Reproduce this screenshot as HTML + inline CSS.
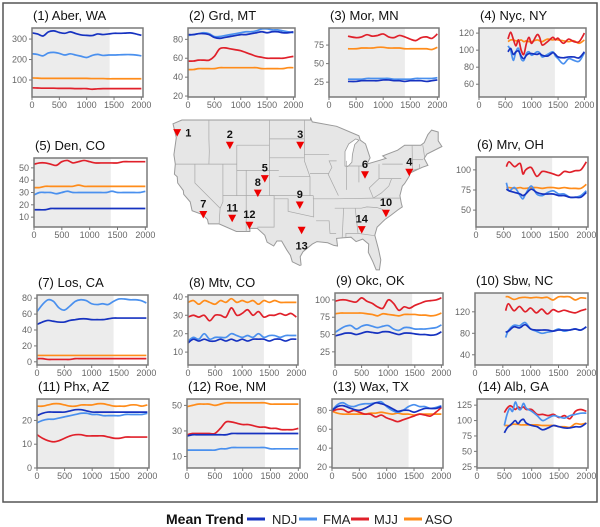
<!DOCTYPE html>
<html><head><meta charset="utf-8">
<style>
html,body{margin:0;padding:0;background:#fff;}
svg{display:block;font-family:"Liberation Sans",Arial,sans-serif;}
</style></head>
<body>
<svg id="fig" width="600" height="527" viewBox="0 0 600 527" xmlns="http://www.w3.org/2000/svg">
<rect x="3" y="3" width="594" height="499" fill="none" stroke="#555" stroke-width="1.5"/>
<g id="map"></g>
<g id="panels"></g>
<g id="legend">
  <text x="166" y="524" font-size="14" font-weight="bold" fill="#111">Mean Trend</text>
  <line x1="247" y1="519" x2="265" y2="519" stroke="#1632c0" stroke-width="3"/>
  <text x="272" y="524" font-size="13" fill="#222">NDJ</text>
  <line x1="299" y1="519" x2="317" y2="519" stroke="#4a90ee" stroke-width="3"/>
  <text x="323" y="524" font-size="13" fill="#222">FMA</text>
  <line x1="351" y1="519" x2="369" y2="519" stroke="#e0202a" stroke-width="3"/>
  <text x="374" y="524" font-size="13" fill="#222">MJJ</text>
  <line x1="404" y1="519" x2="422" y2="519" stroke="#ff8c1a" stroke-width="3"/>
  <text x="425" y="524" font-size="13" fill="#222">ASO</text>
</g>
</svg>
<script>
// ---------- data ----------
const yearsFull = [0,100,200,300,400,500,600,700,800,900,1000,1100,1200,1300,1400,1500,1600,1700,1800,1900,2000];

const p1NDJ = [330,325,315,335,340,332,328,335,327,320,318,317,325,322,325,328,328,329,330,325,318];
const p1FMA = [228,225,218,232,235,230,222,228,222,216,210,220,225,220,222,222,223,224,224,222,218];
const p1MJJ = [62,61,60,60,60,59,59,59,58,58,58,55,57,58,58,58,58,58,58,58,58];
const p1ASO = [110,109,108,108,108,108,108,108,108,108,108,107,107,107,106,106,106,106,106,106,106];

const p2NDJ = [85,85,86,86,85,82,81,82,83,84,85,85,86,87,88,87,88,88,87,87,88];
const p2FMA = [84,85,86,87,86,83,83,84,85,86,87,88,88,89,91,91,90,90,89,88,87];
const p2MJJ = [57,57,58,58,58,62,70,71,70,69,68,66,64,62,61,60,60,60,60,61,62];
const p2ASO = [48,48,49,49,49,49,50,50,50,50,50,50,50,50,49,49,49,49,49,50,50];

const p3Years = [350,500,600,700,800,900,1000,1100,1200,1300,1400,1500,1600,1700,1800,1900,2000];
const p3MJJ = [87,85,86,89,87,88,90,86,85,88,86,83,81,85,86,84,90];
const p3ASO = [70,70,71,71,71,72,72,71,71,71,70,70,70,70,70,69,72];
const p3FMA = [29,29,29,30,30,30,30,30,29,29,29,29,30,30,30,30,31];
const p3NDJ = [26,26,27,27,27,27,28,28,27,27,26,27,27,27,26,27,28];

const p4Years = [550,600,650,700,750,800,850,900,950,1000,1100,1150,1200,1300,1400,1450,1500,1600,1700,1800,1900,2000];
const p4MJJ = [113,121,113,105,112,100,95,108,115,108,118,115,106,110,115,112,114,108,113,110,110,120];
const p4ASO = [110,112,112,111,111,112,110,111,110,110,112,111,110,113,112,113,112,111,110,111,108,112];
const p4FMA = [105,100,88,98,102,90,88,96,98,94,98,97,92,95,98,93,90,84,90,88,87,97];
const p4NDJ = [98,102,95,98,99,93,90,94,96,96,95,96,94,93,97,95,92,91,92,92,91,98];

const p5MJJ = [53,54,54,53,52,55,56,54,55,56,55,54,54,54,54,54,55,55,55,55,55];
const p5ASO = [34,34,35,35,35,35,35,35,36,35,35,35,35,35,35,35,35,35,35,35,35];
const p5FMA = [28,30,30,30,29,30,31,30,30,30,30,30,30,30,31,30,30,30,30,30,31];
const p5NDJ = [16,16,16,17,17,17,17,17,17,17,17,17,17,17,17,17,17,17,17,17,17];

const p6Years = [550,600,700,800,850,900,1000,1100,1200,1300,1400,1500,1600,1700,1800,1900,2000];
const p6MJJ = [104,110,104,108,95,100,103,92,98,97,95,93,98,97,99,100,110];
const p6ASO = [78,78,77,78,77,77,78,78,77,78,78,77,78,77,77,77,82];
const p6FMA = [84,74,78,68,64,70,80,70,68,72,74,70,70,66,66,68,74];
const p6NDJ = [76,74,72,70,68,70,76,72,70,70,70,68,68,66,66,66,72];

const p7FMA = [63,72,78,76,68,65,70,76,78,77,73,72,73,72,76,79,79,78,78,77,74];
const p7NDJ = [47,50,52,51,50,50,52,53,54,54,53,53,53,54,55,55,55,55,55,55,55];
const p7ASO = [8,8,8,8,8,8,8,8,8,8,8,8,8,8,8,8,8,8,8,8,8];
const p7MJJ = [4,4,3,3,3,3,3,4,4,4,4,4,4,4,4,4,4,4,4,4,4];

const p8ASO = [37,38,36,38,37,36,38,37,39,37,38,37,38,36,38,37,38,37,37,37,37];
const p8MJJ = [29,30,29,30,27,30,30,29,34,30,31,33,30,32,29,30,30,31,30,31,29];
const p8FMA = [16,18,17,20,17,18,18,18,20,19,18,19,18,20,18,19,19,18,19,19,19];
const p8NDJ = [15,17,16,17,16,16,17,16,17,16,17,16,17,17,17,16,17,17,16,17,17];

const p9MJJ = [98,100,100,98,97,103,98,95,90,88,100,95,85,90,88,92,95,98,99,100,103];
const p9ASO = [80,81,81,81,81,81,80,79,77,80,79,78,77,79,79,79,78,78,77,78,81];
const p9FMA = [53,58,62,63,58,62,64,62,60,62,63,58,56,60,60,58,58,58,59,60,64];
const p9NDJ = [48,50,52,52,50,52,54,53,52,54,54,52,50,52,52,51,50,50,49,50,54];

const p10Years = [550,600,700,800,900,1000,1100,1200,1300,1400,1500,1600,1700,1800,1900,2000];
const p10ASO = [148,148,143,146,147,146,147,146,147,142,148,148,148,142,146,145];
const p10MJJ = [122,135,122,130,120,127,118,125,116,124,120,123,120,118,122,125];
const p10FMA = [72,85,95,94,100,88,84,80,82,84,88,84,86,88,86,92];
const p10NDJ = [82,84,92,90,96,88,86,86,86,84,86,86,86,88,86,92];

const p11ASO = [26,26,26.5,27,27,26.5,26,26,26.5,26.5,26.5,27,27,26.5,26,26,26,26.5,26.5,26,26.5];
const p11NDJ = [22,23,23.5,23.5,23.5,23.5,24,24.5,24.5,24,23.5,23.5,23.5,23.5,23.5,23.5,23.5,23.5,23.5,23.5,23.5];
const p11FMA = [19,20,20.5,20.5,21,21.5,22,22.5,23,23,22.5,22.5,22,22,22,22,22.5,22.5,22.5,22.5,23];
const p11MJJ = [14,12.5,11.5,11,11.5,12.5,13.5,14,14,13.5,13.5,13.5,13.5,13,12.5,12.5,13,13,13,13,13];

const p12ASO = [49,50,51,51,51,50,51,52,52,52,52,52,52,52,52,51,51,51,51,51,51];
const p12MJJ = [27,28,28,28,28,28,32,37,37,36,35,35,34,33,33,32,32,31,31,31,32];
const p12NDJ = [26,27,27,27,27,27,27,27,28,28,28,28,28,28,28,28,28,28,28,28,28];
const p12FMA = [15,15,15,15,15,15,16,16,17,17,17,17,17,17,17,16,16,16,16,16,16];

const p13FMA = [80,86,88,85,84,86,87,87,88,89,84,80,78,80,84,86,84,84,82,83,85];
const p13NDJ = [80,84,85,83,81,80,82,85,88,87,85,82,79,80,80,78,80,82,82,82,84];
const p13MJJ = [79,81,81,78,80,78,76,76,73,75,72,70,68,70,72,74,76,75,74,78,83];
const p13ASO = [79,77,76,76,76,76,76,77,77,78,77,76,77,76,76,75,76,76,76,76,76];

const p14Years = [500,550,600,650,700,750,800,850,900,1000,1100,1200,1300,1400,1500,1600,1700,1800,1900,2000];
const p14MJJ = [113,120,124,122,118,122,120,122,118,118,110,110,108,110,105,108,103,115,118,115];
const p14FMA = [92,110,120,115,130,120,118,128,120,115,108,100,104,108,106,104,108,110,112,112];
const p14NDJ = [80,88,92,96,100,95,100,102,96,92,90,85,88,92,90,88,88,90,90,96];
const p14ASO = [92,92,92,94,94,94,93,93,93,93,93,92,92,92,90,90,89,95,94,96];

const xTicks = [0,500,1000,1500,2000];
const siteNames = ["(1) Aber, WA","(2) Grd, MT","(3) Mor, MN","(4) Nyc, NY","(5) Den, CO","(6) Mrv, OH","(7) Los, CA","(8) Mtv, CO","(9) Okc, OK","(10) Sbw, NC","(11) Phx, AZ","(12) Roe, NM","(13) Wax, TX","(14) Alb, GA"];
const siteLon = [-123.8,-112.5,-97.4,-74.0,-105.0,-83.5,-118.2,-106.5,-97.5,-79.0,-112.0,-108.3,-97.1,-84.2];
const siteLat = [47.0,45.0,45.0,40.7,39.7,40.3,34.0,37.4,35.5,34.2,33.4,32.3,31.5,31.6];

const COLORS = {NDJ:"#1632c0", FMA:"#4a90ee", MJJ:"#e0202a", ASO:"#ff8c1a"};
const NS = "http://www.w3.org/2000/svg";

function mk(tag, attrs, parent){
  const e = document.createElementNS(NS, tag);
  for (const k in attrs) e.setAttribute(k, attrs[k]);
  if (parent) parent.appendChild(e);
  return e;
}

// panel layout: [x0, x1, y0, y1, yMin, yMax, yTicks, shadeEnd]
const panels = [
  {box:[32,143,28,97], dom:[17,354], ticks:[100,200,300], years:yearsFull, s:{NDJ:p1NDJ,FMA:p1FMA,MJJ:p1MJJ,ASO:p1ASO}, shade:1420},
  {box:[188,295,28,97], dom:[19,92], ticks:[20,40,60,80], years:yearsFull, s:{NDJ:p2NDJ,FMA:p2FMA,MJJ:p2MJJ,ASO:p2ASO}, shade:1450},
  {box:[329,439,28,97], dom:[5,98], ticks:[25,50,75], years:p3Years, s:{NDJ:p3NDJ,FMA:p3FMA,MJJ:p3MJJ,ASO:p3ASO}, shade:1400},
  {box:[479,586,28,97], dom:[45,126], ticks:[60,80,100,120], years:p4Years, s:{NDJ:p4NDJ,FMA:p4FMA,MJJ:p4MJJ,ASO:p4ASO}, shade:1440},
  {box:[34,147,158,227], dom:[2,58], ticks:[10,20,30,40,50], years:yearsFull, s:{NDJ:p5NDJ,FMA:p5FMA,MJJ:p5MJJ,ASO:p5ASO}, shade:1380},
  {box:[476,588,157,227], dom:[29,116], ticks:[50,75,100], years:p6Years, s:{NDJ:p6NDJ,FMA:p6FMA,MJJ:p6MJJ,ASO:p6ASO}, shade:1380},
  {box:[37,148,295,365], dom:[-4,84], ticks:[0,20,40,60,80], years:yearsFull, s:{NDJ:p7NDJ,FMA:p7FMA,MJJ:p7MJJ,ASO:p7ASO}, shade:1400},
  {box:[188,298,295,365], dom:[3,41], ticks:[10,20,30,40], years:yearsFull, s:{NDJ:p8NDJ,FMA:p8FMA,MJJ:p8MJJ,ASO:p8ASO}, shade:1400},
  {box:[335,443,293,365], dom:[6,110], ticks:[25,50,75,100], years:yearsFull, s:{NDJ:p9NDJ,FMA:p9FMA,MJJ:p9MJJ,ASO:p9ASO}, shade:1450},
  {box:[475,588,293,365], dom:[21,155], ticks:[40,80,120], years:p10Years, s:{NDJ:p10NDJ,FMA:p10FMA,MJJ:p10MJJ,ASO:p10ASO}, shade:1400},
  {box:[37,149,399,468], dom:[0,29], ticks:[0,10,20], years:yearsFull, s:{NDJ:p11NDJ,FMA:p11FMA,MJJ:p11MJJ,ASO:p11ASO}, shade:1400},
  {box:[187,300,399,468], dom:[1,55], ticks:[10,30,50], years:yearsFull, s:{NDJ:p12NDJ,FMA:p12FMA,MJJ:p12MJJ,ASO:p12ASO}, shade:1400},
  {box:[332,443,399,468], dom:[19,92], ticks:[20,40,60,80], years:yearsFull, s:{NDJ:p13NDJ,FMA:p13FMA,MJJ:p13MJJ,ASO:p13ASO}, shade:1400},
  {box:[477,588,399,468], dom:[23,135], ticks:[25,50,75,100,125], years:p14Years, s:{NDJ:p14NDJ,FMA:p14FMA,MJJ:p14MJJ,ASO:p14ASO}, shade:1400}
];

function smoothPath(pts){
  let d = "M" + pts[0][0].toFixed(2) + "," + pts[0][1].toFixed(2);
  for (let i=0;i<pts.length-1;i++){
    const p0 = pts[i-1]||pts[i], p1 = pts[i], p2 = pts[i+1], p3 = pts[i+2]||p2;
    const c1x = p1[0]+(p2[0]-p0[0])/6, c1y = p1[1]+(p2[1]-p0[1])/6;
    const c2x = p2[0]-(p3[0]-p1[0])/6, c2y = p2[1]-(p3[1]-p1[1])/6;
    d += " C"+c1x.toFixed(2)+","+c1y.toFixed(2)+" "+c2x.toFixed(2)+","+c2y.toFixed(2)+" "+p2[0].toFixed(2)+","+p2[1].toFixed(2);
  }
  return d;
}

const panelsG = document.getElementById('panels');
panels.forEach((p, i) => {
  const [x0,x1,y0,y1] = p.box;
  const xScale = v => x0 + (v/2030)*(x1-x0);
  const yScale = v => y1 - (v-p.dom[0])/(p.dom[1]-p.dom[0])*(y1-y0);
  const g = mk('g', {}, panelsG);
  
  
  const t = mk('text', {x:x0+1, y:y0-8, 'font-size':13, fill:'#111'}, g);
  t.textContent = siteNames[i];
  
  
  const sh = mk('rect', {x:x0, y:y0, width:xScale(p.shade)-x0, height:y1-y0, fill:'#ececec'}, g);
  
  
  ['ASO','MJJ','FMA','NDJ'].forEach(k => {
    const vals = p.s[k];
    const pts = vals.map((v,j) => [xScale(p.years[j]), yScale(v)]);
    const path = mk('path', {d:smoothPath(pts), fill:'none', stroke:COLORS[k], 'stroke-width':1.7, 'stroke-linejoin':'round'}, g);
    
    
  });
  const fr = mk('rect', {x:x0, y:y0, width:x1-x0, height:y1-y0, fill:'none', stroke:'#7a7a7a', 'stroke-width':1.5}, g);
  
  
  p.ticks.forEach(tv => {
    const y = yScale(tv);
    mk('line', {x1:x0-3, x2:x0, y1:y, y2:y, stroke:'#777', 'stroke-width':1}, g);
    const tl = mk('text', {x:x0-5, y:y+3, 'font-size':9, fill:'#666', 'text-anchor':'end'}, g);
    tl.textContent = tv;
    
    
  });
  xTicks.forEach(tv => {
    const x = xScale(tv);
    mk('line', {x1:x, x2:x, y1:y1, y2:y1+3, stroke:'#777', 'stroke-width':1}, g);
    const tl = mk('text', {x:x, y:y1+11, 'font-size':9, fill:'#666', 'text-anchor':'middle'}, g);
    tl.textContent = tv;
    
    
  });
});

// ---------- map ----------
const px = lon => 173 + 4.66*(lon+124.7);
const py = lat => 120 + 6.3*(49-lat);
const outline = [[-124.7,48.4],[-122.8,49],[-95.2,49],[-95.2,49.4],[-94.8,48.7],[-89.6,48],[-84.8,46.5],[-84.5,45.8],[-83.4,45.2],[-82.4,43],[-83.1,42],[-79,42.9],[-79.7,43.3],[-76.5,44.2],[-75,45],[-71.5,45],[-70.8,45.4],[-70,46.7],[-69.2,47.4],[-67.8,47.1],[-67.8,45.7],[-67,44.8],[-70.2,43.6],[-70.8,42.9],[-70,41.8],[-71.2,41.5],[-73.8,40.6],[-74,40.1],[-75,38.9],[-75.5,38.5],[-76,37],[-75.7,35.8],[-75.5,35.2],[-76.5,34.7],[-77.9,33.9],[-79.2,33.2],[-80.9,32],[-81.4,30.7],[-80.6,28.5],[-80.1,26.8],[-80.4,25.2],[-81.1,25.2],[-81.8,26.5],[-82.8,28],[-82.7,29.3],[-84,30.1],[-85.4,29.7],[-86.5,30.4],[-88.1,30.3],[-89.6,30.2],[-89.4,29],[-90.2,29.1],[-91.5,29.5],[-93.8,29.7],[-94.8,29.3],[-96.8,28.1],[-97.4,27.3],[-97.2,26],[-97.5,25.9],[-99.1,26.5],[-99.5,27.5],[-100.3,28.4],[-101.4,29.8],[-102.4,29.8],[-103.1,29],[-104.5,29.6],[-105,30.7],[-106.6,31.8],[-108.2,31.8],[-108.2,31.3],[-111.1,31.3],[-114.8,32.5],[-117.1,32.5],[-117.3,33.2],[-118.4,34],[-120.6,34.6],[-121,36],[-122.4,37.2],[-122.5,37.8],[-123.7,39],[-123.8,40],[-124.4,40.4],[-124.2,42],[-124.5,43.5],[-124,46.2]];
const mapG = document.getElementById('map');
const poly = mk('polygon', {points: outline.map(p => px(p[0]).toFixed(1)+","+py(p[1]).toFixed(1)).join(" "), fill:'#e6e6e6', stroke:'#9a9a9a', 'stroke-width':1}, mapG);


const lake = [[-87.8,41.7],[-87.2,41.6],[-86.3,42.3],[-86.2,43.5],[-85.7,45.1],[-84.8,45.8],[-85.5,46],[-87,45.2],[-87.8,44],[-87.8,42.5]];
mk('polygon', {points: lake.map(p => px(p[0]).toFixed(1)+","+py(p[1]).toFixed(1)).join(" "), fill:'#fff', stroke:'#9a9a9a', 'stroke-width':0.8}, mapG);
const borders = [
 [[-117,49],[-117,46],[-116.9,44],[-117,42]],[[-124.2,42],[-111,42]],[[-120,42],[-120,39],[-114.6,35]],[[-114,42],[-114,36],[-114.6,35],[-114.8,32.5]],
 [[-111,45],[-111,41],[-102,41]],[[-111,41],[-111,37]],[[-104,49],[-104,45]],[[-104,45],[-111,45]],[[-104,45],[-104,41],[-104,37],[-103,37],[-103,32],[-106.6,32]],
 [[-109,41],[-109,31.3]],[[-114,37],[-94.6,37]],[[-104,46],[-96.6,46]],[[-104,43],[-96.5,43]],[[-96.5,49],[-96.5,43.5],[-96.5,42.5],[-95.3,40],[-95.3,37]],
 [[-102,40],[-95.3,40]],[[-103,36.5],[-100,36.5],[-100,34.5],[-94.5,33.6],[-94.5,36.5]],[[-94.6,37],[-94.6,36.5],[-91,36.5],[-89.5,36.5],[-81.7,36.6],[-75.9,36.6]],
 [[-94,33],[-91.2,33],[-91,31],[-89.7,31]],[[-91.2,43.5],[-96.5,43.5]],[[-91.2,40.5],[-95.3,40.5]],[[-88.1,35],[-88.4,30.3]],[[-85.6,35],[-85,31],[-87.6,31],[-87.6,30.4]],
 [[-85,31],[-82,30.7],[-81.4,30.7]],[[-90,35],[-84.3,35],[-83.1,35.2],[-80.9,35.1],[-79.7,34.8],[-78.6,33.9]],[[-87.5,42.5],[-87.5,37.9]],[[-84.8,41.7],[-84.8,39.1]],
 [[-80.5,42],[-80.5,39.7],[-75.7,39.7]],[[-79.8,42],[-75.4,42]],[[-87.5,41.7],[-84.8,41.7],[-83.4,41.7]],[[-73.4,45],[-73.3,41],[-71.8,41.3],[-71.8,42]],[[-73.4,42.7],[-71,42.7]],[[-71.1,45],[-70.7,43.1]],
 [[-89.6,42.5],[-91.2,42.5],[-90.6,41.5],[-91.4,40.4],[-89.2,37]],[[-81.7,36.6],[-82.6,38.2],[-80.5,39.7]],[[-77.8,39.7],[-78.4,38.5],[-80,37.4],[-81.7,36.6]]
];
borders.forEach(b => {
  const ln = mk('polyline', {points: b.map(p => px(p[0]).toFixed(1)+","+py(p[1]).toFixed(1)).join(" "), fill:'none', stroke:'#a8a8a8', 'stroke-width':0.7}, mapG);
  
  
});
siteLon.forEach((lon, i) => {
  const x = px(lon), y = py(siteLat[i]);
  const m = mk('polygon', {points:(x-4)+","+(y-3.5)+" "+(x+4)+","+(y-3.5)+" "+x+","+(y+4), fill:'#ee0000'}, mapG);
  
  
  let lx = x, ly = y - 7, anchor = 'middle';
  if (i === 0) { lx = x + 8; ly = y + 4; anchor = 'start'; }
  if (i === 12) { ly = y + 19; }
  const lt = mk('text', {x:lx, y:ly, 'font-size':11, 'font-weight':'bold', fill:'#111', 'text-anchor':anchor}, mapG);
  lt.textContent = String(i+1);
  
  
});
</script>
</body></html>
